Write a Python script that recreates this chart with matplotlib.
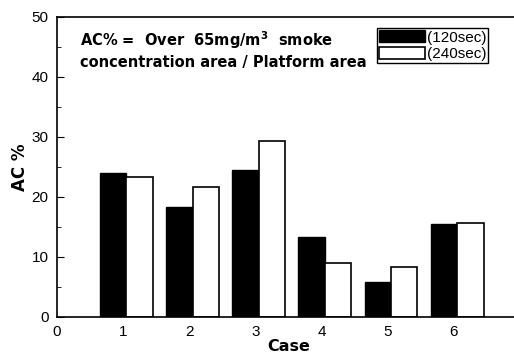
import numpy as np
import matplotlib.pyplot as plt

plt.rcParams['font.family'] = ['Liberation Sans', 'DejaVu Sans']

cases = [1, 2, 3, 4, 5, 6]
ac_120 = [24.0, 18.4, 24.5, 13.3, 5.9, 15.5]
ac_240 = [23.3, 21.7, 29.4, 9.0, 8.4, 15.7]
x_ticks = [0, 1, 2, 3, 4, 5, 6]
y_ticks = [0, 10, 20, 30, 40, 50]

fig = plt.figure(figsize=(5.14, 3.57), dpi=100)
ax = fig.add_axes([57 / 514, 40 / 357, 463 / 514, 300 / 357])

x = np.array(cases)
w = 0.4
ax.bar(x - 0.35, ac_120, w, align='edge', color='black', edgecolor='black',
       lw=1, label='(120sec)')
ax.bar(x + 0.05, ac_240, w, align='edge', color='white', edgecolor='black',
       lw=1.2, label='(240sec)')

ax.set_xlim(0, 7)
ax.set_ylim(0, 50)
ax.set_xticks(x_ticks)
ax.set_yticks(y_ticks)
ax.set_yticks(np.arange(5, 50, 10), minor=True)
ax.tick_params(axis='y', which='major', direction='in', length=5, labelsize=11, pad=6)
ax.tick_params(axis='y', which='minor', direction='in', length=3)
ax.tick_params(axis='x', length=0, labelsize=11, pad=6)

ax.spines['right'].set_visible(False)
for s in ['left', 'bottom', 'top']:
    ax.spines[s].set_linewidth(1.2)

bold = dict(family='DejaVu Sans', fontweight='bold')
ax.set_xlabel('Case', fontsize=11.5, labelpad=0, **bold)
ax.set_ylabel('AC %', fontsize=12, labelpad=2, **bold)

ax.text(0.05, 0.923, 'AC% =  Over  65mg/m$^\\mathbf{3}$  smoke', transform=ax.transAxes,
        fontsize=10.5, va='center', **bold)
ax.text(0.05, 0.85, 'concentration area / Platform area', transform=ax.transAxes,
        fontsize=10.5, va='center', **bold)

leg = ax.legend(loc='upper left', bbox_to_anchor=(0.691, 0.963), fontsize=11,
                handlelength=3.0, handleheight=0.8, handletextpad=0.1,
                borderpad=0.15, labelspacing=0.15, borderaxespad=0,
                fancybox=False, framealpha=1, edgecolor='black')
leg.get_frame().set_linewidth(1)

plt.savefig('out.png', dpi=100)
